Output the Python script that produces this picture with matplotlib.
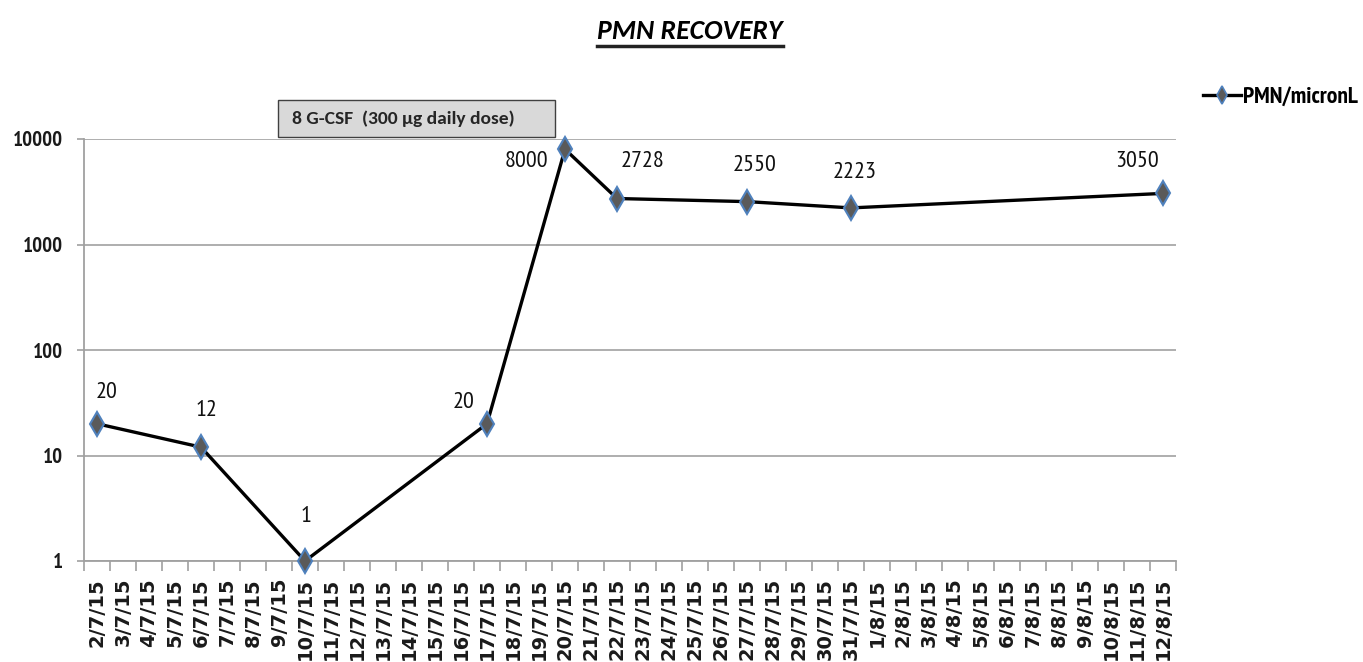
import matplotlib
matplotlib.use("Agg")
import matplotlib.pyplot as plt
from matplotlib.lines import Line2D
from matplotlib.patches import Rectangle
from matplotlib.ticker import FixedLocator, NullLocator, NullFormatter

# ---------------- data ----------------
categories = ['2/7/15', '3/7/15', '4/7/15', '5/7/15', '6/7/15', '7/7/15', '8/7/15',
              '9/7/15', '10/7/15', '11/7/15', '12/7/15', '13/7/15', '14/7/15', '15/7/15',
              '16/7/15', '17/7/15', '18/7/15', '19/7/15', '20/7/15', '21/7/15', '22/7/15',
              '23/7/15', '24/7/15', '25/7/15', '26/7/15', '27/7/15', '28/7/15', '29/7/15',
              '30/7/15', '31/7/15', '1/8/15', '2/8/15', '3/8/15', '4/8/15', '5/8/15',
              '6/8/15', '7/8/15', '8/8/15', '9/8/15', '10/8/15', '11/8/15', '12/8/15']
point_dates = ['2/7/15', '6/7/15', '10/7/15', '17/7/15', '20/7/15', '22/7/15',
               '27/7/15', '31/7/15', '12/8/15']
pmn_values = [20, 12, 1, 20, 8000, 2728, 2550, 2223, 3050]
y_ticks = [1, 10, 100, 1000, 10000]
series_name = 'PMN/micronL'
title = 'PMN RECOVERY'
annotation = '8 G-CSF  (300 µg daily dose)'

# label offsets (pixels) – style only
label_offsets = [(10, 31), (6, 37), (1, 44), (-23, 21), (-39, -12), (26, 37),
                 (8, 36), (4, 35), (-26, 32)]

# ---------------- figure ----------------
W, H = 1363, 662
fig = plt.figure(figsize=(W / 100, H / 100), dpi=100)
fig.patch.set_facecolor('white')

ax_l, ax_r, ax_t, ax_b = 84, 1176, 139, 561
ax = fig.add_axes([ax_l / W, 1 - ax_b / H, (ax_r - ax_l) / W, (ax_b - ax_t) / H])

NARROW = ['PT Sans Narrow', 'DejaVu Sans']
CAL = ['Carlito', 'DejaVu Sans']

x_pos = [categories.index(d) for d in point_dates]

ax.set_yscale('log')
ax.set_ylim(1, 10000)
ax.set_xlim(-0.5, len(categories) - 0.5)

ax.plot(x_pos, pmn_values, color='black', lw=2.4, zorder=3,
        marker='d', markersize=12, markerfacecolor='#5a5a5a',
        markeredgecolor='#4f81bd', markeredgewidth=1.5, label=series_name,
        clip_on=False)

for xp, v, (dx, dy) in zip(x_pos, pmn_values, label_offsets):
    ax.annotate(str(v), (xp, v), xytext=(dx, dy), textcoords='offset pixels',
                ha='center', va='center', fontsize=17.5, family=NARROW,
                color='#111111', zorder=4)

# y axis
ax.yaxis.set_major_locator(FixedLocator(y_ticks))
ax.set_yticklabels([str(t) for t in y_ticks], family=NARROW, fontsize=15,
                   fontweight='bold', color='#1a1a1a')
ax.yaxis.set_minor_locator(NullLocator())
ax.yaxis.set_minor_formatter(NullFormatter())
ax.tick_params(axis='y', which='major', length=5, width=1.2, color='#a0a0a0', pad=10)
ax.grid(axis='y', which='major', color='#a8a8a8', lw=1.3)
ax.set_axisbelow(True)

# x axis: labels at categories, ticks between categories
ax.set_xticks(range(len(categories)))
ax.set_xticklabels(categories, rotation=90, fontsize=14, fontweight='bold',
                   family='DejaVu Sans', color='#1a1a1a')
ax.tick_params(axis='x', which='major', length=0, pad=17 * 0.72)
ax.set_xticks([i - 0.5 for i in range(len(categories) + 1)], minor=True)
ax.tick_params(axis='x', which='minor', length=7, width=1.2, color='#a0a0a0')

for s in ['top', 'right']:
    ax.spines[s].set_visible(False)
for s in ['left', 'bottom']:
    ax.spines[s].set_color('#a0a0a0')
    ax.spines[s].set_linewidth(1.3)

# annotation box
bx0, bx1, by0, by1 = 278, 555, 100, 137
fig.patches.append(Rectangle((bx0 / W, 1 - by1 / H), (bx1 - bx0) / W, (by1 - by0) / H,
                             transform=fig.transFigure, facecolor='#d9d9d9',
                             edgecolor='#404040', lw=1.0, zorder=5))
fig.text(292 / W, 1 - 118.5 / H, annotation, ha='left', va='center',
         fontsize=14, fontweight='bold', family=CAL, color='#262626', zorder=6)

# title with underline
t = fig.text(690 / W, 1 - 31 / H, title, ha='center', va='center', fontsize=20,
             fontweight='bold', fontstyle='italic', family=CAL, color='black')
fig.canvas.draw()
bb = t.get_window_extent()
uy = H - 46
fig.add_artist(Line2D([bb.x0 / W, bb.x1 / W], [uy / H, uy / H], color='#222222',
                      lw=2.5, transform=fig.transFigure))

# legend
handle = Line2D([], [], color='black', lw=2.4, marker='d', markersize=9,
                markerfacecolor='#5a5a5a', markeredgecolor='#4f81bd', markeredgewidth=1.2)
ax.legend([handle], [series_name], loc='center left',
          bbox_to_anchor=(1203 / W, 1 - 97 / H), bbox_transform=fig.transFigure,
          frameon=False, handlelength=1.6, handletextpad=0.1, borderpad=0,
          borderaxespad=0, prop={'family': NARROW, 'size': 17, 'weight': 'bold'})

fig.savefig('out.png', dpi=100)
